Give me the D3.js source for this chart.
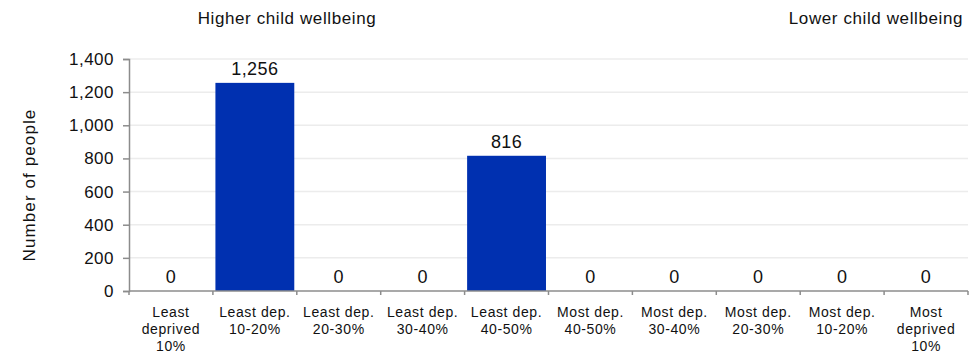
<!DOCTYPE html>
<html><head><meta charset="utf-8">
<script src="https://cdn.jsdelivr.net/npm/d3@7"></script>
<style>body{margin:0;background:#fff}svg{display:block;font-family:"Liberation Sans",Arial,sans-serif}</style>
</head><body><svg id="c" width="973" height="353"></svg>
<script>
const categories = ["Least\ndeprived\n10%","Least dep.\n10-20%","Least dep.\n20-30%","Least dep.\n30-40%","Least dep.\n40-50%","Most dep.\n40-50%","Most dep.\n30-40%","Most dep.\n20-30%","Most dep.\n10-20%","Most\ndeprived\n10%"];
const values = [0,1256,0,0,816,0,0,0,0,0];
const yTicks = [0,200,400,600,800,1000,1200,1400];
const yTitle = "Number of people";
const leftNote = "Higher child wellbeing";
const rightNote = "Lower child wellbeing";

const svg = d3.select("#c");
const m = {l:129, r:968, t:59, b:291};
const x = d3.scaleBand().domain(categories).range([m.l, m.r]).paddingInner(0.06).paddingOuter(0.03);
const y = d3.scaleLinear().domain([0,1400]).range([m.b, m.t]);
const fmt = d3.format(",");

// gridlines
svg.append("g").selectAll("line").data(yTicks.filter(d=>d>0)).join("line")
  .attr("x1", m.l).attr("x2", m.r).attr("y1", d=>y(d)).attr("y2", d=>y(d))
  .attr("stroke", "#ececec").attr("stroke-width", 1.5);

// bars
svg.append("g").selectAll("rect").data(values).join("rect")
  .attr("x", (d,i)=>x(categories[i])).attr("width", x.bandwidth())
  .attr("y", d=>y(d)).attr("height", d=>y(0)-y(d)).attr("fill", "#0030b0");

// value labels
svg.append("g").selectAll("text").data(values).join("text")
  .attr("x", (d,i)=>x(categories[i]) + x.bandwidth()/2)
  .attr("y", d=>y(d) - 8).attr("text-anchor","middle")
  .attr("font-size", 18).attr("letter-spacing", 0.4).attr("fill","#111").text(d=>fmt(d));

// y axis
const ya = svg.append("g").attr("transform", `translate(${m.l},0)`)
  .call(d3.axisLeft(y).tickValues(yTicks).tickFormat(fmt).tickSize(6).tickPadding(9));
ya.select(".domain").attr("stroke","#8c8c8c").attr("stroke-width",1.5);
ya.selectAll(".tick line").attr("stroke","#8c8c8c").attr("stroke-width",1.5);
ya.selectAll(".tick text").attr("font-size",17).attr("letter-spacing",0.5).attr("fill","#111")
  .attr("font-family","Liberation Sans, Arial, sans-serif");

// x axis
const xa = svg.append("g").attr("transform", `translate(0,${m.b})`);
xa.append("line").attr("x1", m.l).attr("x2", m.r).attr("stroke","#8c8c8c").attr("stroke-width",1.5);
const bounds = d3.range(categories.length+1).map(i => m.l + (m.r-m.l)*i/categories.length);
xa.selectAll("line.t").data(bounds).join("line").attr("class","t")
  .attr("x1", d=>d).attr("x2", d=>d).attr("y1",0).attr("y2",4)
  .attr("stroke","#8c8c8c").attr("stroke-width",1.5);
const xl = xa.selectAll("text").data(categories).join("text")
  .attr("text-anchor","middle").attr("font-size",14).attr("letter-spacing",0.6).attr("fill","#111")
  .attr("transform", d=>`translate(${x(d)+x.bandwidth()/2},0)`);
xl.selectAll("tspan").data(d=>d.split("\n")).join("tspan")
  .attr("x",0).attr("y",(d,i)=>26 + i*16.8).text(d=>d);

// y title
svg.append("text").attr("transform","translate(35,185) rotate(-90)")
  .attr("text-anchor","middle").attr("font-size",17).attr("letter-spacing",1.1).attr("fill","#111").text(yTitle);

// notes
svg.append("text").attr("x",287).attr("y",24).attr("text-anchor","middle")
  .attr("font-size",17).attr("letter-spacing",0.6).attr("fill","#111").text(leftNote);
svg.append("text").attr("x",963).attr("y",24).attr("text-anchor","end")
  .attr("font-size",17).attr("letter-spacing",0.6).attr("fill","#111").text(rightNote);
</script></body></html>
